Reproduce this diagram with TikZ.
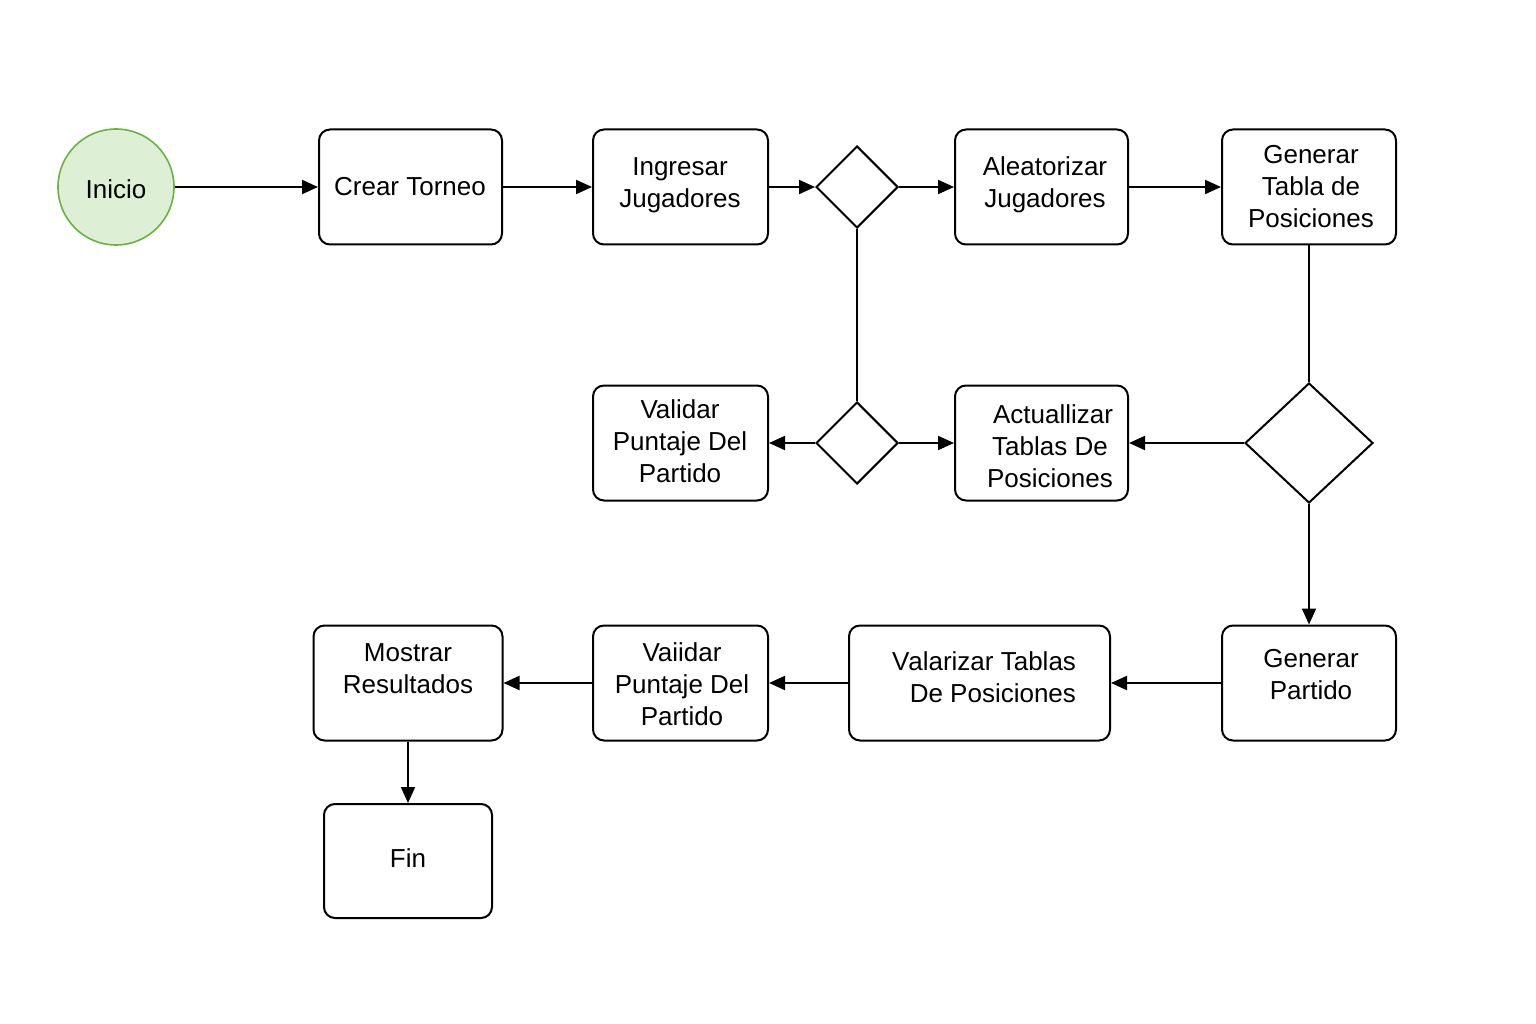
\documentclass[tikz,border=0pt]{standalone}
\usepackage{fontspec}
\setmainfont{Liberation Sans}
\usetikzlibrary{arrows.meta,shapes.geometric}
\definecolor{startfill}{RGB}{221,240,213}
\definecolor{startline}{RGB}{104,180,62}
\tikzset{
  box/.style={draw=black, line width=2pt, rounded corners=11pt, fill=white, inner sep=0pt},
  dia/.style={draw=black, line width=2pt, diamond, fill=white, inner sep=0pt, shape aspect=1},
  txt/.style={font=\fontsize{26}{32}\selectfont, align=center, inner sep=0pt},
  arr/.style={line width=2pt, -{Triangle[length=16pt,width=14pt]}},
  lin/.style={line width=2pt}
}
\begin{document}
\begin{tikzpicture}[x=1pt,y=-1pt]
\useasboundingbox (0,0) rectangle (1536,1024);
% start
\node[circle, draw=startline, fill=startfill, line width=1.6pt, minimum size=116pt, inner sep=0pt] (inicio) at (116,187) {};
\node[txt] (inicio-t) at (116,189) {Inicio};
% row 1
\node[box, minimum width=183pt, minimum height=115pt] (crear) at (410.5,187) {};
\node[txt] (crear-t) at (410,187) {Crear Torneo};
\node[box, minimum width=175pt, minimum height=115pt] (ingr) at (680.5,187) {};
\node[txt] (ingr-t) at (680,185) {Ingresar\\Jugadores};
\node[dia, minimum width=82pt, minimum height=82pt] (d1) at (857,187) {};
\node[box, minimum width=173pt, minimum height=115pt] (alea) at (1041.5,187) {};
\node[txt] (alea-t) at (1045,185) {Aleatorizar\\Jugadores};
\node[box, minimum width=174pt, minimum height=115pt] (gent) at (1309,187) {};
\node[txt] (gent-t) at (1311,186.5) {Generar\\Tabla de\\Posiciones};
% row 2
\node[box, minimum width=175pt, minimum height=115pt] (val1) at (680.5,443) {};
\node[txt] (val1-t) at (680,441) {Validar\\Puntaje Del\\Partido};
\node[dia, minimum width=82pt, minimum height=82pt] (d3) at (857,443) {};
\node[box, minimum width=173pt, minimum height=115pt] (act) at (1041.5,443) {};
\node[txt] (act-t) at (1050,446) {\hspace*{6pt}Actuallizar\\Tablas De\\Posiciones};
\node[dia, minimum width=128pt, minimum height=120pt] (d2) at (1309,443) {};
% row 3
\node[box, minimum width=174pt, minimum height=115pt] (gpart) at (1309,683) {};
\node[txt] (gpart-t) at (1311,675) {Generar\\Partido};
\node[box, minimum width=261pt, minimum height=115pt] (valar) at (979.5,683) {};
\node[txt, align=right] (valar-t) at (984,677.5) {V\kern-1pt alarizar Tablas\\De Posiciones};
\node[box, minimum width=175pt, minimum height=115pt] (vaii) at (680.5,683) {};
\node[txt] (vaii-t) at (682,684.5) {Vaiidar\\Puntaje Del\\Partido};
\node[box, minimum width=189pt, minimum height=115pt] (most) at (408,683) {};
\node[txt] (most-t) at (408,669) {Mostrar\\Resultados};
\node[box, minimum width=168pt, minimum height=114pt] (fin) at (408,861) {};
\node[txt] (fin-t) at (408,858) {Fin};
% connectors
\draw[arr] (inicio) -- (crear);
\draw[arr] (crear) -- (ingr);
\draw[arr] (ingr) -- (d1.west);
\draw[arr] (d1.east) -- (alea);
\draw[arr] (alea) -- (gent);
\draw[lin] (gent.south) -- (d2.north);
\draw[arr] (d2.west) -- (act.east);
\draw[lin] (d1.south) -- (d3.north);
\draw[arr] (d3.west) -- (val1.east);
\draw[arr] (d3.east) -- (act.west);
\draw[arr] (d2.south) -- (gpart.north);
\draw[arr] (gpart.west) -- (valar.east);
\draw[arr] (valar.west) -- (vaii.east);
\draw[arr] (vaii.west) -- (most.east);
\draw[arr] (most.south) -- (fin.north);
\end{tikzpicture}
\end{document}
